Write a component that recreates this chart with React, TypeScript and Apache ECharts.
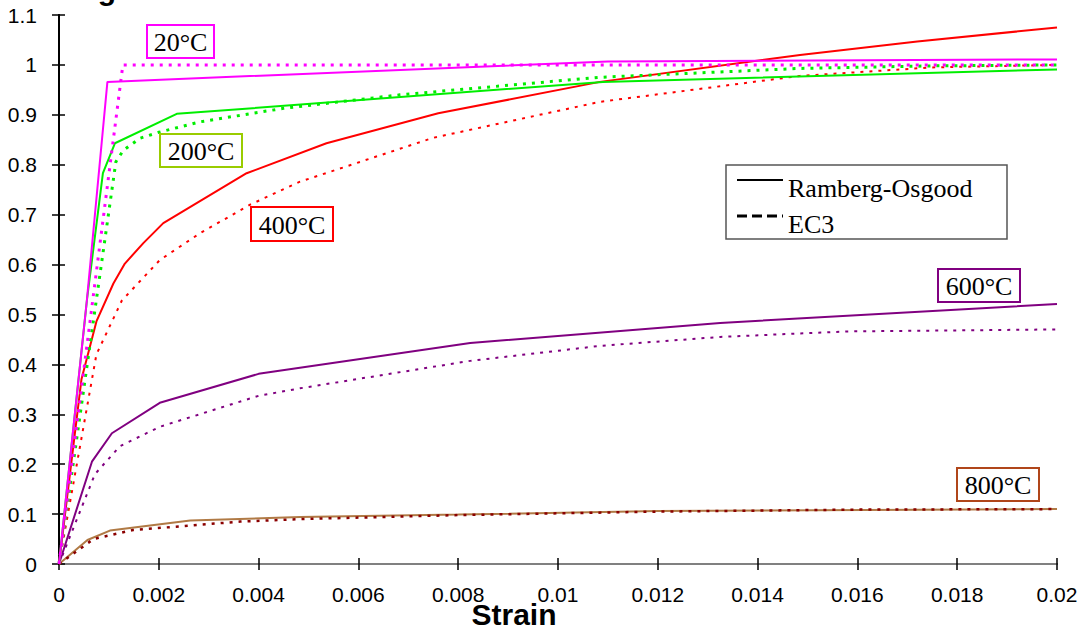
import React, { useEffect, useRef } from "react";
import * as echarts from "echarts";

// Normalised stress–strain curves of steel at elevated temperature.
// Each curve: [strain, stress / fy] pairs.

// Ramberg-Osgood model (solid)
const ro20: number[][] = [[0, 0], [0.00056, 0.53], [0.00097, 0.966], [0.011, 1.007], [0.02, 1.011]];
const ro200: number[][] = [[0, 0], [0.00056, 0.529], [0.00088, 0.783], [0.00112, 0.843], [0.00236, 0.902], [0.0109, 0.966], [0.02, 0.991]];
const ro400: number[][] = [[0, 0], [0.00045, 0.37], [0.00075, 0.486], [0.00109, 0.562], [0.00132, 0.602], [0.00169, 0.643], [0.00209, 0.683], [0.00376, 0.783], [0.00536, 0.843], [0.0076, 0.903], [0.01084, 0.966], [0.01485, 1.02], [0.0172, 1.047], [0.02, 1.075]];
const ro600: number[][] = [[0, 0], [0.00066, 0.205], [0.00106, 0.262], [0.00202, 0.323], [0.004, 0.381], [0.00824, 0.443], [0.01325, 0.483], [0.02, 0.521]];
const ro800: number[][] = [[0, 0], [0.00057, 0.048], [0.00102, 0.067], [0.00263, 0.087], [0.00483, 0.094], [0.008, 0.099], [0.012, 0.106], [0.02, 0.11]];

// EC3 model (dotted)
const ec20: number[][] = [[0, 0], [0.00128, 1.0], [0.02, 1.0]];
const ec200: number[][] = [[0, 0], [0.00114, 0.806], [0.00129, 0.829], [0.00162, 0.853], [0.002, 0.865], [0.00283, 0.886], [0.0045, 0.913], [0.00683, 0.94], [0.0108, 0.975], [0.01485, 0.993], [0.0175, 0.998], [0.02, 1.0]];
const ec400: number[][] = [[0, 0], [0.00075, 0.42], [0.00126, 0.528], [0.00202, 0.609], [0.00283, 0.663], [0.00383, 0.72], [0.00483, 0.766], [0.0075, 0.854], [0.01084, 0.926], [0.01485, 0.978], [0.0175, 0.995], [0.02, 1.0]];
const ec600: number[][] = [[0, 0], [0.00072, 0.18], [0.00122, 0.236], [0.00202, 0.275], [0.004, 0.337], [0.00483, 0.352], [0.00824, 0.407], [0.01084, 0.437], [0.01325, 0.455], [0.0158, 0.466], [0.02, 0.47]];
const ec800: number[][] = [[0, 0], [0.00069, 0.05], [0.00148, 0.068], [0.00363, 0.085], [0.00483, 0.09], [0.008, 0.098], [0.012, 0.105], [0.016, 0.109], [0.02, 0.11]];

const xTicks = { min: 0, max: 0.02, step: 0.002 };
const yTicks = { min: 0, max: 1.1, step: 0.1 };

const sans = "'Liberation Sans', Arial, sans-serif";
const serif = "'Liberation Serif', 'Times New Roman', serif";

function curve(data: number[][], color: string, dotted: boolean, width: number) {
  return {
    type: "line",
    data,
    xAxisIndex: 0,
    yAxisIndex: 0,
    showSymbol: false,
    symbol: "none",
    smooth: false,
    silent: true,
    lineStyle: {
      color,
      width,
      type: dotted ? [3, 6] : "solid",
    },
  };
}

function tempLabel(text: string, x: number, y: number, w: number, h: number, stroke: string) {
  return {
    type: "group",
    z: 100,
    children: [
      {
        type: "rect",
        shape: { x, y, width: w, height: h },
        style: { fill: "#fff", stroke, lineWidth: 2 },
        z: 100,
      },
      {
        type: "text",
        x: x + w / 2,
        y: y + h / 2 + 1,
        z: 101,
        style: { text, fill: "#000", font: `26px ${serif}`, align: "center", verticalAlign: "middle" },
      },
    ],
  };
}

export default function App() {
  const ref = useRef<HTMLDivElement>(null);

  useEffect(() => {
    if (!ref.current) return;
    const chart = echarts.init(ref.current, null, { renderer: "svg" });

    const baseX = { type: "value", min: xTicks.min, max: xTicks.max, interval: xTicks.step, splitLine: { show: false } };
    const baseY = { type: "value", min: yTicks.min, max: yTicks.max, interval: yTicks.step, splitLine: { show: false } };

    chart.setOption({
      animation: false,
      backgroundColor: "#fff",
      grid: { left: 59, right: 29, top: 15, bottom: 66, containLabel: false },
      xAxis: [
        {
          ...baseX,
          position: "bottom",
          axisLine: { show: true, lineStyle: { color: "#000", width: 2 } },
          axisTick: { show: true, inside: false, length: 6, lineStyle: { color: "#000", width: 1.5 } },
          axisLabel: {
            show: true,
            margin: 20,
            color: "#000",
            fontSize: 21,
            fontFamily: sans,
            formatter: (v: number) => String(+v.toFixed(3)),
          },
        },
        {
          ...baseX,
          position: "bottom",
          axisLine: { show: false },
          axisTick: { show: true, inside: true, length: 6, lineStyle: { color: "#000", width: 1.5 } },
          axisLabel: { show: false },
        },
        {
          ...baseX,
          position: "top",
          axisLine: { show: true, lineStyle: { color: "#808080", width: 2 } },
          axisTick: { show: false },
          axisLabel: { show: false },
        },
      ],
      yAxis: [
        {
          ...baseY,
          position: "left",
          axisLine: { show: true, lineStyle: { color: "#000", width: 2 } },
          axisTick: { show: true, inside: false, length: 7, lineStyle: { color: "#000", width: 1.5 } },
          axisLabel: {
            show: true,
            margin: 22,
            color: "#000",
            fontSize: 21,
            fontFamily: sans,
            formatter: (v: number) => String(+v.toFixed(1)),
          },
        },
        {
          ...baseY,
          position: "left",
          axisLine: { show: false },
          axisTick: { show: true, inside: true, length: 6, lineStyle: { color: "#000", width: 1.5 } },
          axisLabel: { show: false },
        },
        {
          ...baseY,
          position: "right",
          axisLine: { show: true, lineStyle: { color: "#000", width: 2 } },
          axisTick: { show: false },
          axisLabel: { show: false },
        },
      ],
      series: [
        curve(ro800, "#B07A45", false, 2),
        curve(ec800, "#8B0000", true, 2.5),
        curve(ro600, "#800080", false, 2),
        curve(ec600, "#800080", true, 2),
        curve(ro400, "#FF0000", false, 2),
        curve(ec400, "#FF0000", true, 2),
        curve(ro200, "#00EE00", false, 2),
        curve(ec200, "#00EE00", true, 3),
        curve(ro20, "#FF00FF", false, 2),
        curve(ec20, "#FF00FF", true, 3),
      ],
      graphic: [
        // title line, mostly above the page edge
        {
          type: "text",
          x: 21,
          y: -11,
          style: { text: "Strength", fill: "#000", font: `bold 30px ${sans}`, align: "left", verticalAlign: "middle" },
        },
        {
          type: "text",
          x: 514,
          y: 614,
          style: { text: "Strain", fill: "#000", font: `bold 30px ${sans}`, align: "center", verticalAlign: "middle" },
        },
        tempLabel("20°C", 147, 25, 67, 33, "#FF00FF"),
        tempLabel("200°C", 160, 134, 82, 33, "#99CC00"),
        tempLabel("400°C", 251, 207, 82, 34, "#FF0000"),
        tempLabel("600°C", 938, 269, 82, 33, "#800080"),
        tempLabel("800°C", 957, 468, 82, 33, "#B0461A"),
        // legend
        {
          type: "group",
          z: 100,
          children: [
            {
              type: "rect",
              shape: { x: 726, y: 165, width: 281, height: 74 },
              style: { fill: "#fff", stroke: "#555", lineWidth: 1.5 },
              z: 100,
            },
            {
              type: "line",
              shape: { x1: 737, y1: 180, x2: 783, y2: 180 },
              style: { stroke: "#000", lineWidth: 2 },
              z: 101,
            },
            {
              type: "text",
              x: 788,
              y: 188,
              z: 101,
              style: { text: "Ramberg-Osgood", fill: "#000", font: `26px ${serif}`, align: "left", verticalAlign: "middle" },
            },
            {
              type: "line",
              shape: { x1: 737, y1: 216, x2: 783, y2: 216 },
              style: { stroke: "#000", lineWidth: 3, lineDash: [10, 5] },
              z: 101,
            },
            {
              type: "text",
              x: 788,
              y: 224,
              z: 101,
              style: { text: "EC3", fill: "#000", font: `26px ${serif}`, align: "left", verticalAlign: "middle" },
            },
          ],
        },
      ],
    });

    return () => chart.dispose();
  }, []);

  return (
    <div
      ref={ref}
      style={{ position: "fixed", left: 0, top: 0, width: 1086, height: 630, background: "#fff" }}
    />
  );
}
